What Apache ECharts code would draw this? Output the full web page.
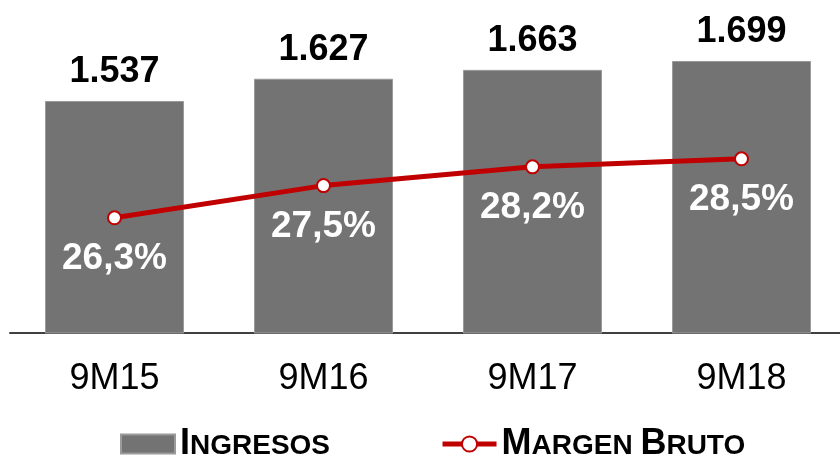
<!DOCTYPE html>
<html>
<head>
<meta charset="utf-8">
<script src="https://cdn.jsdelivr.net/npm/echarts@6/dist/echarts.min.js"></script>
<style>
  html, body { margin: 0; padding: 0; background: #fff; }
  #chart { width: 840px; height: 457px; }
</style>
</head>
<body>
<div id="chart"></div>
<script>
// datos del gráfico
const categories = ['9M15', '9M16', '9M17', '9M18']
const ingresos = [1537, 1627, 1663, 1699]
const margenBruto = [26.3, 27.5, 28.2, 28.5]

const FONT = '"Liberation Sans", Arial, sans-serif'
const RED = '#C00000'
const GRAY = '#737373'

const chart = echarts.init(document.getElementById('chart'))

const option = {
  animation: false,
  grid: {
    left: 10,
    right: -6,
    top: 20,
    bottom: 124,
    outerBoundsMode: 'none',
  },
  legend: {
    left: 115,
    top: 421,
    itemWidth: 54,
    itemHeight: 19,
    itemGap: 110,
    data: [
      { name: 'Ingresos', icon: 'rect' },
      { name: 'Margen Bruto', lineStyle: { width: 5, color: RED } },
    ],
    formatter: function (name) {
      // versalitas: primera letra grande, resto pequeño
      return name
        .toUpperCase()
        .split(' ')
        .map((w) => '{big|' + w[0] + '}{small|' + w.slice(1) + '}')
        .join('{small| }')
    },
    textStyle: {
      rich: {
        big: { fontFamily: FONT, fontWeight: 'bold', fontSize: 36, color: '#000' },
        small: { fontFamily: FONT, fontWeight: 'bold', fontSize: 28, color: '#000', padding: [5, 0, 0, 0] },
      },
    },
  },
  xAxis: {
    type: 'category',
    data: categories,
    axisLine: { lineStyle: { color: '#404040', width: 2 } },
    axisTick: { show: false },
    axisLabel: {
      margin: 28,
      fontFamily: FONT,
      fontSize: 36,
      color: '#000',
    },
  },
  yAxis: [
    {
      type: 'value',
      min: 597,
      max: 1865,
      show: false,
      splitLine: { show: false },
    },
    {
      type: 'value',
      min: 22,
      max: 33.68,
      show: false,
      splitLine: { show: false },
    },
  ],
  series: [
    {
      name: 'Ingresos',
      type: 'bar',
      yAxisIndex: 0,
      data: ingresos,
      barWidth: 139,
      itemStyle: {
        color: GRAY,
        borderColor: '#9a9a9a',
        borderWidth: 1,
      },
      label: {
        show: true,
        position: 'top',
        distance: 11,
        fontFamily: FONT,
        fontWeight: 'bold',
        fontSize: 36,
        color: '#000',
        formatter: (p) => p.value.toString().replace(/\B(?=(\d{3})+(?!\d))/g, '.'),
      },
    },
    {
      name: 'Margen Bruto',
      type: 'line',
      yAxisIndex: 1,
      data: margenBruto,
      symbol: 'circle',
      symbolSize: 13,
      itemStyle: {
        color: '#fff',
        borderColor: RED,
        borderWidth: 2,
      },
      lineStyle: { color: RED, width: 5 },
      label: {
        show: true,
        position: 'inside',
        offset: [0, 41],
        fontFamily: FONT,
        fontWeight: 'bold',
        fontSize: 37,
        color: '#fff',
        formatter: (p) => p.value.toFixed(1).replace('.', ',') + '%',
      },
      z: 3,
    },
  ],
}

chart.setOption(option)
</script>
</body>
</html>
